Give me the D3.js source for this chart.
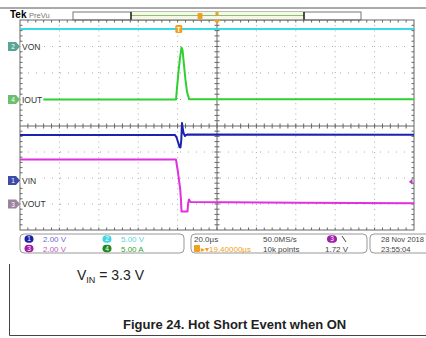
<!DOCTYPE html>
<html>
<head>
<meta charset="utf-8">
<script src="https://cdn.jsdelivr.net/npm/d3@7"></script>
<style>
  body { margin: 0; background: #fff; }
  text { font-family: "Liberation Sans", Arial, sans-serif; }
</style>
</head>
<body>
<div id="chart"></div>
<script>
// Scope settings
const timePerDiv = 20;        // µs/div
const triggerPos = 19.4;      // µs, trigger left of the center
const timeDomain = [-(100 - triggerPos), 100 + triggerPos];

// Traces: [time µs, value]
const vonData = [[-80.6, 3.3], [119.4, 3.3]];
const ioutData = [[-80.6, 0], [-1.4, 0], [-0.9, 2.2], [-0.15, 5.2], [0.6, 7.8], [1.37, 9.8], [1.9, 9.3],
  [2.6, 6.7], [3.4, 3.7], [4.2, 1.4], [5.2, 0.1], [6, 0.05], [119.4, 0.05]];
const vinData = [[-80.6, 3.5], [-1.9, 3.5], [-1.2, 3.35], [-0.4, 2.97], [0.36, 2.58], [0.86, 2.55],
  [1.27, 3.12], [1.62, 4.43], [1.98, 4.05], [2.4, 3.66], [3.15, 3.43], [4.2, 3.55], [119.4, 3.52]];
const voutData = [[-80.6, 3.42], [-1.42, 3.42], [-1.0, 3.0], [-0.5, 2.54], [0.1, 1.85], [0.76, 1.08],
  [1.12, 0.31], [1.37, -0.58], [4.42, -0.58], [4.77, 0.08], [5.18, 0.35], [5.94, 0.15], [60, 0.1], [119.4, 0.05]];

// Channels: name, panel, offset (div), scale per div, colors
const channels = [
  { id: 2, name: "VON", panel: 0, offset: 1, perDiv: 5, color: "#38d8e4", mark: "#5aa598", data: vonData },
  { id: 4, name: "IOUT", panel: 0, offset: -1, perDiv: 5, color: "#2fd02f", mark: "#6cbf6c", data: ioutData },
  { id: 1, name: "VIN", panel: 1, offset: -0.1, perDiv: 2, color: "#1c22b0", mark: "#3c4ca8", data: vinData },
  { id: 3, name: "VOUT", panel: 1, offset: -1, perDiv: 2, color: "#e030e0", mark: "#9c84a0", data: voutData }
];
const triggerLevel = 1.72;

// Status bar texts
const chSettings = [
  { id: 1, text: "2.00 V", badge: "#1c22a8", color: "#6c6cd0" },
  { id: 3, text: "2.00 V", badge: "#a020a8", color: "#b860c0" },
  { id: 2, text: "5.00 V", badge: "#40d4e2", color: "#60d0e0" },
  { id: 4, text: "5.00 A", badge: "#1f8a1f", color: "#35a535" }
];
const acqTexts = ["20.0µs", "50.0MS/s", "10k points", "1.72 V"];
const dateTexts = ["28 Nov 2018", "23:55:04"];

const W = 426, H = 338;
const svg = d3.select("#chart").append("svg").attr("width", W).attr("height", H);
svg.append("rect").attr("width", W).attr("height", H).attr("fill", "#fff");

const left = 20, right = 414;
const panels = [[20, 126], [126, 230]];

const x = d3.scaleLinear().domain(timeDomain).range([left, right]);
const xDiv = d3.scaleLinear().domain([0, 10]).range([left, right]);
const panelY = panels.map(p => d3.scaleLinear().domain([-2, 2]).range([p[1], p[0]]));

// Page lines
svg.append("line").attr("x1", 0).attr("x2", W).attr("y1", 8).attr("y2", 8).attr("stroke", "#555");
svg.append("text").attr("x", 10).attr("y", 18).attr("font-size", 10).attr("font-weight", "bold").text("Tek");
svg.append("text").attr("x", 29).attr("y", 18).attr("font-size", 7.5).attr("fill", "#777").text("PreVu");

// Record bar
svg.append("rect").attr("x", 73).attr("y", 12).attr("width", 288).attr("height", 8)
  .attr("fill", "#fff").attr("stroke", "#777");
svg.append("rect").attr("x", 131).attr("y", 12).attr("width", 173).attr("height", 8).attr("fill", "#f4f8e4");
svg.append("line").attr("x1", 131).attr("x2", 304).attr("y1", 15.5).attr("y2", 15.5).attr("stroke", "#8cc070");
[131, 304].forEach(v => svg.append("line").attr("x1", v).attr("x2", v).attr("y1", 12).attr("y2", 20)
  .attr("stroke", "#222").attr("stroke-width", 1.6));
svg.append("rect").attr("x", 197.5).attr("y", 13).attr("width", 5).attr("height", 6).attr("rx", 1).attr("fill", "#f0a020");
svg.append("rect").attr("x", 215.5).attr("y", 12).attr("width", 3).attr("height", 3).attr("fill", "#f0a020");

// Grid dots
const grid = svg.append("g").attr("stroke", "#aaa").attr("stroke-width", 1);
panels.forEach((p, i) => {
  d3.range(1, 10).filter(d => d !== 5).forEach(d => {
    grid.append("line").attr("x1", xDiv(d)).attr("x2", xDiv(d)).attr("y1", p[0]).attr("y2", p[1])
      .attr("stroke-dasharray", "1,4.2");
  });
  [-1, 0, 1].forEach(d => {
    grid.append("line").attr("x1", left).attr("x2", right).attr("y1", panelY[i](d)).attr("y2", panelY[i](d))
      .attr("stroke-dasharray", "1,7");
  });
});

// Frame and center lines with minor ticks
const frame = svg.append("g").attr("stroke", "#666").attr("fill", "none");
frame.append("rect").attr("x", left).attr("y", panels[0][0]).attr("width", right - left).attr("height", panels[1][1] - panels[0][0]);
frame.append("line").attr("x1", left).attr("x2", right).attr("y1", 126).attr("y2", 126);
frame.append("line").attr("x1", xDiv(5)).attr("x2", xDiv(5)).attr("y1", panels[0][0]).attr("y2", panels[1][1]);
d3.range(1, 50).forEach(k => {
  const tx = xDiv(k / 5);
  frame.append("line").attr("x1", tx).attr("x2", tx).attr("y1", 123.5).attr("y2", 128.5);
  frame.append("line").attr("x1", tx).attr("x2", tx).attr("y1", 20).attr("y2", 22.5);
  frame.append("line").attr("x1", tx).attr("x2", tx).attr("y1", 227.5).attr("y2", 230);
});
panels.forEach((p, i) => {
  d3.range(1, 20).forEach(k => {
    const ty = panelY[i](-2 + k / 5);
    frame.append("line").attr("x1", xDiv(5) - 2.5).attr("x2", xDiv(5) + 2.5).attr("y1", ty).attr("y2", ty);
    frame.append("line").attr("x1", left).attr("x2", left + 2.5).attr("y1", ty).attr("y2", ty);
    frame.append("line").attr("x1", right - 2.5).attr("x2", right).attr("y1", ty).attr("y2", ty);
  });
});

// Traces
channels.forEach(c => {
  const y = d3.scaleLinear().domain([-2, 2]).range(panelY[c.panel].range());
  c.y = v => y(c.offset + v / c.perDiv);
  const line = d3.line().x(d => x(d[0])).y(d => c.y(d[1]));
  svg.append("path").datum(c.data).attr("d", line).attr("fill", "none")
    .attr("stroke", c.color).attr("stroke-width", 2).attr("stroke-linejoin", "round");
});

// Channel markers and labels (labels sit on a white patch over the traces)
channels.forEach(c => {
  const gy = c.y(0);
  const lbl = svg.append("text").attr("x", 22).attr("y", gy + 3).attr("font-size", 8.5).attr("fill", "#333").text(c.name);
  const bb = lbl.node().getBBox();
  svg.insert("rect", () => lbl.node()).attr("x", 20.5).attr("y", gy - 4).attr("width", bb.width + 2.5).attr("height", 8)
    .attr("fill", "#fff");
  svg.append("path").attr("d", `M8,${gy - 4.5}h8l4,4.5l-4,4.5h-8z`).attr("fill", c.mark);
  svg.append("text").attr("x", 13).attr("y", gy + 2.5).attr("font-size", 6.5).attr("fill", "#fff")
    .attr("text-anchor", "middle").text(c.id);
});

// Trigger markers
svg.append("rect").attr("x", x(0) - 3.5).attr("y", 25).attr("width", 7).attr("height", 8).attr("rx", 1.5).attr("fill", "#f0a020");
svg.append("text").attr("x", x(0)).attr("y", 31.5).attr("font-size", 6.5).attr("fill", "#fff")
  .attr("text-anchor", "middle").attr("font-weight", "bold").text("T");
svg.append("path").attr("d", `M${xDiv(5) - 3.5},20h7l-3.5,4z`).attr("fill", "#f0a020");
const ch3 = channels.find(c => c.id === 3);
const tl = ch3.y(triggerLevel);
svg.append("path").attr("d", `M409,${tl}l3.5,-3v6z`).attr("fill", "#c030c0");

// Status bar
const sb = svg.append("g");
sb.append("rect").attr("x", 20).attr("y", 234).attr("width", 164).attr("height", 19).attr("rx", 4)
  .attr("fill", "#fff").attr("stroke", "#999");
sb.append("rect").attr("x", 191).attr("y", 234).attr("width", 176).attr("height", 19).attr("rx", 4)
  .attr("fill", "#fff").attr("stroke", "#999");
sb.append("rect").attr("x", 370).attr("y", 234).attr("width", 70).attr("height", 19).attr("rx", 4)
  .attr("fill", "#fff").attr("stroke", "#999");
chSettings.forEach((s, i) => {
  const bx = i < 2 ? 29 : 107, by = i % 2 === 0 ? 239 : 248.5;
  sb.append("rect").attr("x", bx - 4.5).attr("y", by - 3.8).attr("width", 9).attr("height", 7.6).attr("rx", 3.8).attr("fill", s.badge);
  sb.append("text").attr("x", bx).attr("y", by + 2.3).attr("font-size", 6.5).attr("fill", "#fff")
    .attr("text-anchor", "middle").text(s.id);
  sb.append("text").attr("x", bx + 14).attr("y", by + 3).attr("font-size", 8).attr("fill", s.color).text(s.text);
});
sb.append("text").attr("x", 194).attr("y", 242).attr("font-size", 8).attr("fill", "#444").text(acqTexts[0]);
sb.append("rect").attr("x", 194).attr("y", 245).attr("width", 6).attr("height", 7).attr("rx", 1).attr("fill", "#f0a020");
sb.append("text").attr("x", 201).attr("y", 251.5).attr("font-size", 8).attr("fill", "#f0a020").text("▸▾19.40000µs");
sb.append("text").attr("x", 263).attr("y", 242).attr("font-size", 8).attr("fill", "#444").text(acqTexts[1]);
sb.append("text").attr("x", 263).attr("y", 251.5).attr("font-size", 8).attr("fill", "#444").text(acqTexts[2]);
sb.append("rect").attr("x", 327).attr("y", 235.2).attr("width", 10).attr("height", 7.6).attr("rx", 3.8).attr("fill", "#a020a8");
sb.append("text").attr("x", 332).attr("y", 241.3).attr("font-size", 6.5).attr("fill", "#fff").attr("text-anchor", "middle").text("3");
sb.append("line").attr("x1", 342).attr("x2", 346).attr("y1", 236).attr("y2", 242).attr("stroke", "#444");
sb.append("text").attr("x", 325).attr("y", 251.5).attr("font-size", 8).attr("fill", "#444").text(acqTexts[3]);
sb.append("text").attr("x", 381).attr("y", 242).attr("font-size", 7.6).attr("fill", "#444").text(dateTexts[0]);
sb.append("text").attr("x", 381).attr("y", 251.5).attr("font-size", 7.6).attr("fill", "#444").text(dateTexts[1]);

// Figure frame and caption
svg.append("path").attr("d", "M9.5,264V335.5H426").attr("fill", "none").attr("stroke", "#444");
const vin = svg.append("text").attr("x", 77).attr("y", 280).attr("font-size", 14).attr("fill", "#222");
vin.append("tspan").text("V");
vin.append("tspan").attr("font-size", 9).attr("dy", 3).text("IN");
vin.append("tspan").attr("dy", -3).text(" = 3.3 V");
svg.append("text").attr("x", 123).attr("y", 329).attr("font-size", 13).attr("font-weight", "bold")
  .attr("fill", "#222").text("Figure 24. Hot Short Event when ON");
</script>
</body>
</html>
